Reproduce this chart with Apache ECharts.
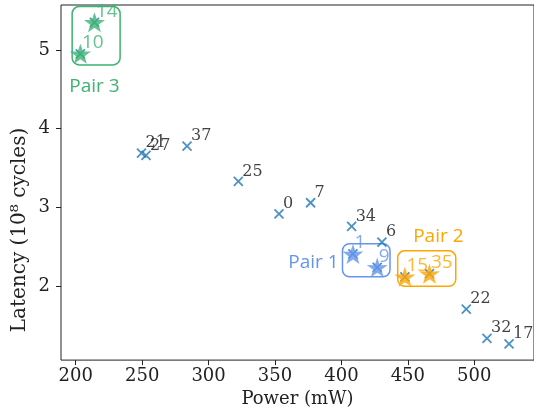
<!DOCTYPE html>
<html>
<head>
<meta charset="utf-8">
<script src="https://cdn.jsdelivr.net/npm/echarts@6/dist/echarts.min.js"></script>
<style>
  html, body { margin: 0; padding: 0; background: #fff; }
  #chart { width: 534px; height: 413px; }
</style>
</head>
<body>
<div id="chart"></div>
<script>
  // plain design points
  const pointIds = ['21', '27', '37', '25', '0', '7', '34', '6', '22', '32', '17'];
  const pointPower = [249.5, 252.9, 283.8, 322.4, 353.0, 376.8, 407.7, 430.5, 494.0, 509.6, 526.2];
  const pointLatency = [3.69, 3.66, 3.78, 3.33, 2.92, 3.06, 2.76, 2.56, 1.71, 1.34, 1.27];

  // highlighted pairs
  const pairNames = ['Pair 1', 'Pair 2', 'Pair 3'];
  const pairIds = [['1', '9'], ['15', '35'], ['14', '10']];
  const pairPower = [[408.7, 427.0], [447.8, 466.3], [214.1, 203.5]];
  const pairLatency = [[2.41, 2.24], [2.12, 2.16], [5.35, 4.95]];
  // box extents around each pair, in data units
  const boxPower = [[400.8, 436.6], [442.4, 486.1], [197.3, 233.4]];
  const boxLatency = [[2.12, 2.54], [2.00, 2.45], [4.81, 5.55]];
  // where the "Pair n" caption sits
  const captionPower = [379.0, 473.0, 214.1];
  const captionLatency = [2.30, 2.63, 4.54];

  const xTicks = [200, 250, 300, 350, 400, 450, 500];
  const yTicks = [2, 3, 4, 5];

  const pairColors = ['#6495ed', '#ffa500', '#3cb371'];
  const serif = 'DejaVu Serif';
  const sans = 'Open Sans';
  const crossPath = 'path://M0,0L10,10M10,0L0,10';
  const starPath = 'path://M50,0L61.8,35.1L97.6,34.5L68.8,56.2L79.4,90.5L50,70L20.6,90.5L31.2,56.2L2.4,34.5L38.2,35.1Z';

  const chart = echarts.init(document.getElementById('chart'));

  const crossData = pointIds.map((id, i) => ({
    name: id,
    value: [pointPower[i], pointLatency[i]]
  }));
  pairIds.forEach((ids, p) => {
    ids.forEach((id, k) => {
      crossData.push({
        name: id,
        value: [pairPower[p][k], pairLatency[p][k]],
        label: { show: false }
      });
    });
  });

  const starSeries = pairNames.map((name, p) => ({
    name: name,
    type: 'scatter',
    symbol: starPath,
    symbolKeepAspect: true,
    symbolSize: 21,
    z: 5,
    itemStyle: { color: pairColors[p] },
    label: {
      show: true,
      position: 'right',
      distance: 0,
      offset: [-9, -11],
      formatter: '{b}',
      color: pairColors[p],
      fontFamily: sans,
      fontSize: 19
    },
    data: pairIds[p].map((id, k) => ({
      name: id,
      value: [pairPower[p][k], pairLatency[p][k]]
    }))
  }));

  const boxData = pairNames.map((name, p) => [
    boxPower[p][0], boxPower[p][1], boxLatency[p][0], boxLatency[p][1],
    captionPower[p], captionLatency[p], p
  ]);

  chart.setOption({
    animation: false,
    grid: {
      left: 61, top: 5, right: -7, bottom: 52,
      show: true, borderColor: '#222', borderWidth: 1
    },
    graphic: [{
      type: 'text',
      x: 20,
      y: 230,
      rotation: Math.PI / 2,
      style: {
        text: 'Latency (10⁸ cycles)',
        font: '20px "' + serif + '"',
        fill: '#222',
        align: 'center',
        verticalAlign: 'middle'
      }
    }],
    xAxis: {
      type: 'value',
      min: 188.9,
      max: 545,
      name: 'Power (mW)',
      nameLocation: 'middle',
      nameGap: 27,
      nameTextStyle: { fontFamily: serif, fontSize: 18, color: '#222' },
      splitLine: { show: false },
      axisLine: { show: false },
      axisTick: { show: true, length: 5, lineStyle: { color: '#222' }, customValues: xTicks },
      axisLabel: { margin: 7, fontFamily: serif, fontSize: 18, color: '#222', customValues: xTicks }
    },
    yAxis: {
      type: 'value',
      min: 1.063,
      max: 5.57,
      splitLine: { show: false },
      axisLine: { show: false },
      axisTick: { show: true, length: 5, lineStyle: { color: '#222' }, customValues: yTicks },
      axisLabel: { margin: 11, fontFamily: serif, fontSize: 18, color: '#222', customValues: yTicks }
    },
    series: [
      {
        type: 'custom',
        z: 1,
        silent: true,
        renderItem: function (params, api) {
          const p = api.value(6);
          const a = api.coord([api.value(0), api.value(3)]);
          const b = api.coord([api.value(1), api.value(2)]);
          const t = api.coord([api.value(4), api.value(5)]);
          return {
            type: 'group',
            children: [
              {
                type: 'rect',
                shape: { x: a[0], y: a[1], width: b[0] - a[0], height: b[1] - a[1], r: 7 },
                style: { fill: 'none', stroke: pairColors[p], lineWidth: 1.5 }
              },
              {
                type: 'text',
                x: t[0], y: t[1],
                style: {
                  text: pairNames[p],
                  fill: pairColors[p],
                  font: '19px "' + sans + '"',
                  align: 'center',
                  verticalAlign: 'middle'
                }
              }
            ]
          };
        },
        data: boxData
      },
      {
        type: 'scatter',
        symbol: crossPath,
        symbolSize: 9,
        z: 2,
        itemStyle: { color: 'none', borderColor: '#1f77b4', borderWidth: 1.8 },
        label: {
          show: true,
          position: 'right',
          distance: 0,
          offset: [-3, -10],
          formatter: '{b}',
          color: '#111',
          fontFamily: serif,
          fontSize: 16
        },
        data: crossData
      }
    ].concat(starSeries)
  });
</script>
</body>
</html>
